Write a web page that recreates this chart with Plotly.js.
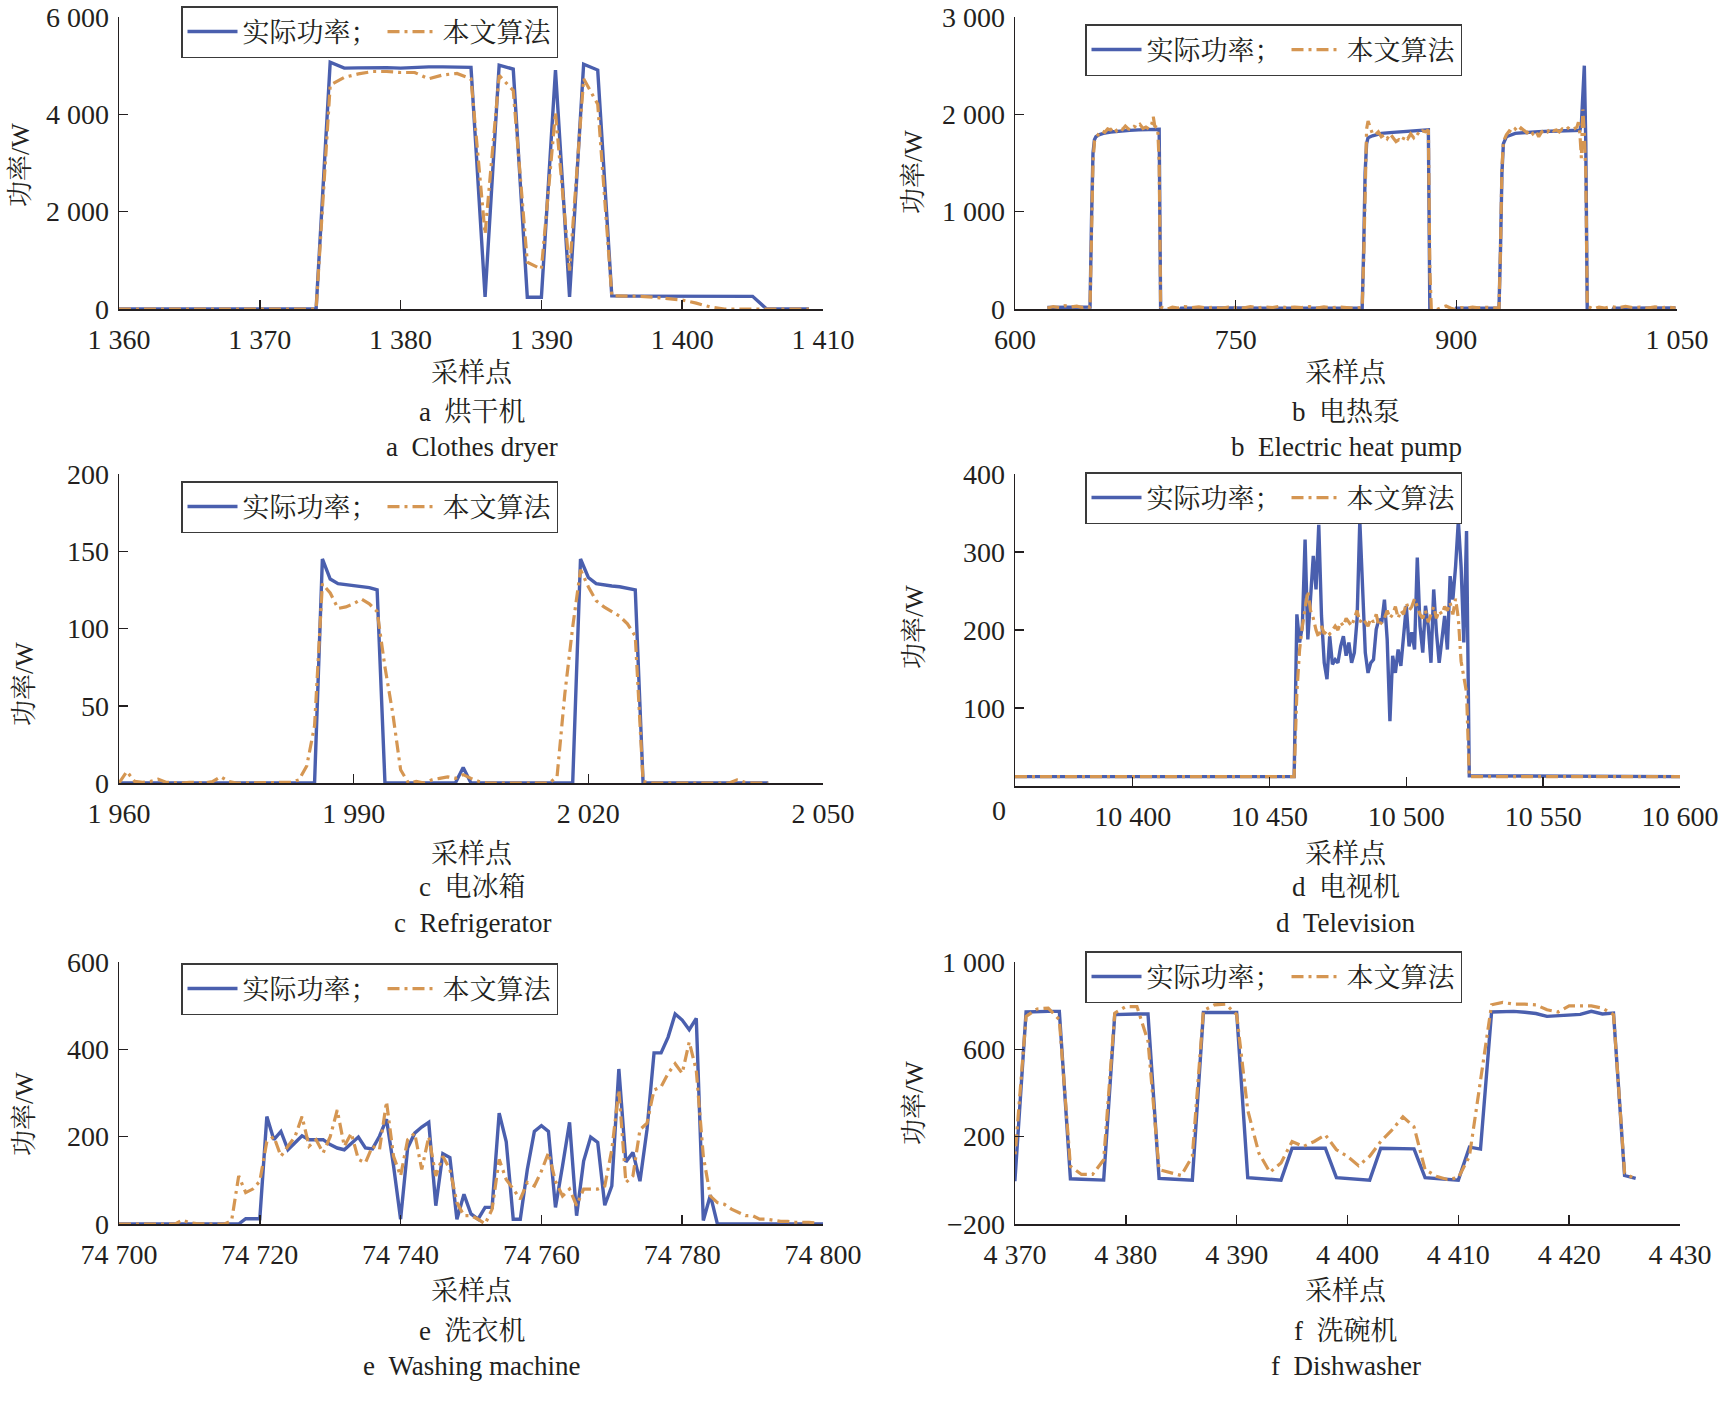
<!DOCTYPE html>
<html>
<head>
<meta charset="utf-8">
<script src="https://cdn.plot.ly/plotly-3.0.1.min.js"></script>
<style>
  html, body { margin: 0; padding: 0; background: #fff; }
  #chart { width: 1722px; height: 1406px; }
</style>
</head>
<body>
<div id="chart"></div>
<script>
"use strict";

// ---- data ----
var seriesNames = ["实际功率；", "本文算法"];

// a clothes dryer, samples 1360..1409
var dryerStart = 1360;
var dryerActual = [0,0,0,0,0,0,0,0,0,0, 0,0,0,0,0,5070,4950,4955,4960,4960,
  4950,4970,4975,4975,4975,4965,250,5010,4930,240, 240,4910,250,5030,4910,270,265,265,260,260,
  260,260,260,260,260,260,0,0,0,0];
var dryerAlgo = [0,0,0,0,0,0,0,0,0,0, 0,0,0,0,0,4600,4760,4830,4880,4880,
  4860,4860,4730,4810,4840,4730,1540,4800,4490,960, 820,4040,790,4730,4210,270,270,260,240,210,
  185,120,40,0,0,0,0,0,0,0];

// b electric heat pump
var pumpActualX = [622,630,640,650,651,652,653,654,655,657,660,665,671,678,684,690,697,698,699,705,
  712,713,720,735,750,770,790,810,836,837,838,839,840,843,849,857,865,873,881,882,
  890,899,900,915,929,930,931,932,934,940,948,956,964,971,978,984,985,986,987,988,
  989,1000,1006,1007,1020,1035,1049];
var pumpActual = [15,18,16,18,20,900,1600,1740,1770,1790,1805,1818,1829,1835,1840,1843,1846,1846,-15,-18,
  -15,8,10,8,10,9,10,9,10,600,1400,1700,1760,1780,1805,1815,1822,1830,1840,-25,
  -27,-25,8,10,10,600,1400,1700,1770,1805,1815,1822,1826,1829,1832,1836,1900,2300,2500,1700,
  -20,-20,-18,8,10,9,10];
var pumpAlgoX = [622,626,630,634,638,642,646,650,651,652, 653,654,655,657,659,661,663,665,667,669,
  671,673,675,677,679,681,683,685,687,689, 691,693,694,695,697,698,699,703,707,711,
  715,720,725,730,735,740,745,750,755,760, 765,770,775,780,785,790,795,800,805,810,
  815,820,825,830,835,836,837,838,839,840, 841,843,845,847,849,851,853,855,857,859,
  861,863,865,867,869,871,873,875,877,879, 881,882,883,886,890,893,896,899,903,907,
  911,915,920,925,929,930,931,932,934,936, 938,940,942,944,946,948,950,952,954,956,
  958,960,962,964,966,968,970,972,974,976, 978,980,982,983,984,985,986,987,988,989,
  993,997,1001,1005,1010,1015,1020,1025,1030,1035, 1040,1045,1049];
var pumpAlgo = [10,25,15,35,20,30,15,25,10,700, 1500,1720,1760,1800,1830,1815,1850,1840,1870,1830,
  1860,1845,1880,1850,1840,1875,1860,1895,1855,1870, 1850,1900,1975,1880,1860,1500,20,-5,20,10,
  25,15,22,12,18,8,20,15,10,25, 12,22,15,28,12,20,15,25,10,22,
  12,20,15,10,15,20,500,1300,1850,1930, 1880,1800,1790,1820,1770,1790,1750,1800,1760,1720,
  1740,1720,1780,1750,1800,1760,1810,1790,1830,1820, 1840,400,0,-10,15,30,10,-5,15,8,
  20,12,18,10,8,600,1450,1720,1790,1830, 1810,1850,1820,1860,1830,1810,1840,1800,1830,1770,
  1820,1840,1820,1855,1830,1840,1820,1850,1835,1860, 1840,1850,1870,1920,1800,1550,2050,1800,1400,30,
  0,20,10,25,12,28,15,20,10,22, 15,18,10];

// c refrigerator, samples 1960..2043
var fridgeStart = 1960;
var fridgeActual = [0,0,0,0,0,0,0,0,0,0, 0,0,0,0,0,0,0,0,0,0, 0,0,0,0,0,0,
  145,132,129,128.5,128,127.5,126.5,125,
  0,0,0,0,0,0,0,0,0,0, 10,
  0,0,0,0,0,0,0,0,0,0,0,0,0,0,
  145,133,129,128,127.5,127,126,125,
  0,0,0,0,0,0,0,0,0,0,0,0,0,0,0,0,0];
var fridgeAlgo = [0,7.5,1,0.5,1,2.5,0.5,0,0,0.5, 0,0,1,4,1,0,0,0,0,0, 0,0,0.5,2,11,37,
  129,123,113,114,116,119,116,111,
  75,45,8.6,0,1,0,2,3,4,3, 5.4,
  3,1,0,0,0,0,0,0,0,0,0,4,58,101,
  138,127,118,114,111,108,103,95,
  1,0,0,0,0,0,0,0,0,0,0,0,2,0.5,0,0,0];

// d television: idle level around the active stretch 10460..10523
var tvIdleLeftX = [10357, 10459];
var tvIdleRightX = [10600];
var tvIdleActual = 12;
var tvIdleAlgo = 12;
var tvActiveStart = 10460;
var tvActual = [220,184,205,316,188,239,295,252,335,218, 158,137,192,156,162,158,179,192,167,184,
  158,171,214,340,256,171,145,158,162,201, 214,209,239,188,83,167,145,175,154,197,
  231,179,197,175,293,205,171,231,205,158, 252,197,158,188,218,175,269,239,282,340,
  282,184,327,13];
var tvAlgo = [120,175,205,225,250,225,215,200,190,205, 195,200,195,200,205,200,210,205,215,210,
  205,215,225,210,215,210,205,215,210,220, 205,210,215,225,215,220,230,215,225,220,
  235,225,230,240,230,220,215,225,210,220, 230,215,225,220,230,225,235,220,240,215,
  160,140,120,12];

// e washing machine, samples 74700..
var washerStart = 74700;
var washerActual = [0,0,0,0,0,0,0,0,0,0, 0,0,0,0,0,0,0,0, 12,12,12,
  246,193,212,170,186,202,193,193,193,182, 174,170,184,199,174,172,201,240,133,11,
  174,208,222,233,42,161,152,11,68,23, 11,38,38,254,189,11,11,125,212,225,
  212,38,133,233,19,144,199,187,43,87, 355,142,164,98,216,392,392,428,481,467,
  445,471,8,66,
  0,0,0,0,0,0,0,0,0,0,0,0,0,0,0,0];
var washerAlgo = [0,0,0,0,0,0,0,0,0,9, 3,1,0,0,0,0,8,
  110,72,80,98,189,200,155,178,200,246, 178,193,163,200,261,178,208,148,140,178,
  170,280,155,110,193,208,125,200,110,155, 125,49,19,19,11,0,34,148,102,80,
  57,95,87,121,163,98,64,80,42,80, 80,80,87,170,307,95,110,216,231,307,
  314,345,367,345,417,352,155,64,49,45, 34,27,19,19,11,11,8,6,6,4,
  4,4,2];

// f dishwasher, samples 4369..4426
var dishStart = 4369;
var dishActual = [4,4,771,774,774,774,7,5,3,1, 759,762,762,762,9,6,3,1,769,769,
  769,769,12,8,4,1,147,147,147,147, 12,9,5,1,147,145,143,144,12,8,
  4,1,152,143,771,772,774,770,764,751, 755,758,760,774,762,766,22,9];
var dishAlgo = [64,110,751,785,789,736,64,27,27,94, 766,796,796,638,49,34,22,110,777,804,
  807,759,321,125,37,80,178,155,178,208, 140,110,67,110,178,230,291,245,49,19,
  4,12,110,457,804,815,807,807,804,781, 771,799,799,799,789,759,34,4];

var captionsCn = ["a\u2002烘干机", "b\u2002电热泵", "c\u2002电冰箱", "d\u2002电视机", "e\u2002洗衣机", "f\u2002洗碗机"];
var captionsEn = ["a\u2002Clothes dryer", "b\u2002Electric heat pump", "c\u2002Refrigerator",
  "d\u2002Television", "e\u2002Washing machine", "f\u2002Dishwasher"];

// ---- helpers ----
function indexFrom(start, n) {
  var out = [];
  for (var i = 0; i < n; i++) out.push(start + i);
  return out;
}
function repeatValue(v, n) {
  var out = [];
  for (var i = 0; i < n; i++) out.push(v);
  return out;
}

var tvX = tvIdleLeftX.concat(indexFrom(tvActiveStart, tvActual.length), tvIdleRightX);
var tvActualY = repeatValue(tvIdleActual, tvIdleLeftX.length).concat(tvActual, repeatValue(tvIdleActual, tvIdleRightX.length));
var tvAlgoY = repeatValue(tvIdleAlgo, tvIdleLeftX.length).concat(tvAlgo, repeatValue(tvIdleAlgo, tvIdleRightX.length));

var panelSeries = [
  {ax: [indexFrom(dryerStart, dryerActual.length), dryerActual], al: [indexFrom(dryerStart, dryerAlgo.length), dryerAlgo]},
  {ax: [pumpActualX, pumpActual], al: [pumpAlgoX, pumpAlgo]},
  {ax: [indexFrom(fridgeStart, fridgeActual.length), fridgeActual], al: [indexFrom(fridgeStart, fridgeAlgo.length), fridgeAlgo]},
  {ax: [tvX, tvActualY], al: [tvX, tvAlgoY]},
  {ax: [indexFrom(washerStart, washerActual.length), washerActual], al: [indexFrom(washerStart, washerAlgo.length), washerAlgo]},
  {ax: [indexFrom(dishStart, dishActual.length), dishActual], al: [indexFrom(dishStart, dishAlgo.length), dishAlgo]}
];

// ---- layout (pixel boxes in the 1722 x 1406 page) ----
var W = 1722, H = 1406;
var panels = [
  {px: [119, 823], py: [17, 309], xr: [1360, 1410], x0: 1360, dx: 10, yr: [0, 6000], yt: [0, 2000, 4000, 6000], leg: [181, 6], yt_px: [20, 165], cap: 472, capY: [373, 412, 447]},
  {px: [1015, 1677], py: [17, 309], xr: [600, 1050], x0: 600, dx: 150, yr: [0, 3000], yt: [0, 1000, 2000, 3000], leg: [1085, 24], yt_px: [914, 172], cap: 1346, capY: [373, 412, 447]},
  {px: [119, 823], py: [474, 783], xr: [1960, 2050], x0: 1960, dx: 30, yr: [0, 200], yt: [0, 50, 100, 150, 200], leg: [181, 481], yt_px: [24, 684], cap: 472, capY: [854, 887, 923]},
  {px: [1015, 1680], py: [474, 786], xr: [10357, 10600], x0: 10400, dx: 50, yr: [0, 400], yt: [100, 200, 300, 400], leg: [1085, 472], yt_px: [914, 627], cap: 1346, capY: [854, 887, 923]},
  {px: [119, 823], py: [962, 1224], xr: [74700, 74800], x0: 74700, dx: 20, yr: [0, 600], yt: [0, 200, 400, 600], leg: [181, 963], yt_px: [24, 1114], cap: 472, capY: [1291, 1331, 1366]},
  {px: [1015, 1680], py: [962, 1224], xr: [4370, 4430], x0: 4370, dx: 10, yr: [-200, 1000], yt: [-200, 200, 600, 1000], leg: [1085, 951], yt_px: [914, 1103], cap: 1346, capY: [1291, 1331, 1366]}
];

var BLUE = "#4a5fae";
var ORANGE = "#d59652";
var INK = "#231f20";
var NUM_FONT = "'Liberation Serif', 'Times New Roman', serif";
var CJK_FONT = "'Liberation Serif', 'Noto Serif CJK SC', 'Noto Sans CJK SC', serif";

function fx(p) { return p / W; }
function fy(p) { return 1 - p / H; }

var data = [];
var layout = {
  width: W, height: H,
  margin: {l: 0, r: 0, t: 0, b: 0},
  paper_bgcolor: "#fff", plot_bgcolor: "#fff",
  separators: ". ",
  showlegend: true,
  annotations: []
};

panels.forEach(function (p, i) {
  var n = i === 0 ? "" : String(i + 1);
  var legName = "legend" + n;
  var s = panelSeries[i];
  data.push({
    x: s.ax[0], y: s.ax[1], type: "scatter", mode: "lines",
    name: seriesNames[0], legend: legName, xaxis: "x" + n, yaxis: "y" + n,
    line: {color: BLUE, width: 3.4}
  });
  data.push({
    x: s.al[0], y: s.al[1], type: "scatter", mode: "lines",
    name: seriesNames[1], legend: legName, xaxis: "x" + n, yaxis: "y" + n,
    line: {color: ORANGE, width: 3.2, dash: "12px,5px,3px,5px"}
  });

  var common = {
    showgrid: false, zeroline: false, showline: true,
    linecolor: INK, linewidth: 1.5,
    ticks: "inside", ticklen: 9, tickwidth: 1.5, tickcolor: INK,
    tickfont: {family: NUM_FONT, size: 28, color: INK},
    tickformat: ",d", separatethousands: true, fixedrange: true
  };
  layout["xaxis" + n] = Object.assign({}, common, {
    domain: [fx(p.px[0]), fx(p.px[1])], range: p.xr,
    tickmode: "linear", tick0: p.x0, dtick: p.dx,
    anchor: "y" + n, ticklabelstandoff: 5
  });
  layout["yaxis" + n] = Object.assign({}, common, {
    domain: [fy(p.py[1]), fy(p.py[0])], range: p.yr,
    tickmode: "array", tickvals: p.yt,
    anchor: "x" + n, ticklabelstandoff: 3
  });

  layout[legName] = {
    x: fx(p.leg[0]), y: fy(p.leg[1]), xanchor: "left", yanchor: "top",
    orientation: "h", bgcolor: "#fff", bordercolor: "#3a3a3a", borderwidth: 1.5,
    font: {family: CJK_FONT, size: 27, color: INK},
    itemwidth: 50, traceorder: "normal"
  };

  layout.annotations.push({
    text: "功率/W", xref: "paper", yref: "paper",
    x: fx(p.yt_px[0]), y: fy(p.yt_px[1]), xanchor: "center", yanchor: "middle",
    textangle: -90, showarrow: false, font: {family: CJK_FONT, size: 26, color: INK}
  });
  layout.annotations.push({
    text: "采样点", xref: "paper", yref: "paper",
    x: fx(p.cap), y: fy(p.capY[0]), xanchor: "center", yanchor: "middle",
    showarrow: false, font: {family: CJK_FONT, size: 27, color: INK}
  });
  layout.annotations.push({
    text: captionsCn[i], xref: "paper", yref: "paper",
    x: fx(p.cap), y: fy(p.capY[1]), xanchor: "center", yanchor: "middle",
    showarrow: false, font: {family: CJK_FONT, size: 27, color: INK}
  });
  layout.annotations.push({
    text: captionsEn[i], xref: "paper", yref: "paper",
    x: fx(p.cap), y: fy(p.capY[2]), xanchor: "center", yanchor: "middle",
    showarrow: false, font: {family: NUM_FONT, size: 27, color: INK}
  });
});

// the television panel prints its zero below the corner
layout.annotations.push({
  text: "0", xref: "paper", yref: "paper", x: fx(999), y: fy(810),
  xanchor: "center", yanchor: "middle", showarrow: false,
  font: {family: NUM_FONT, size: 28, color: INK}
});

Plotly.newPlot("chart", data, layout, {displayModeBar: false, staticPlot: true});
</script>
</body>
</html>
